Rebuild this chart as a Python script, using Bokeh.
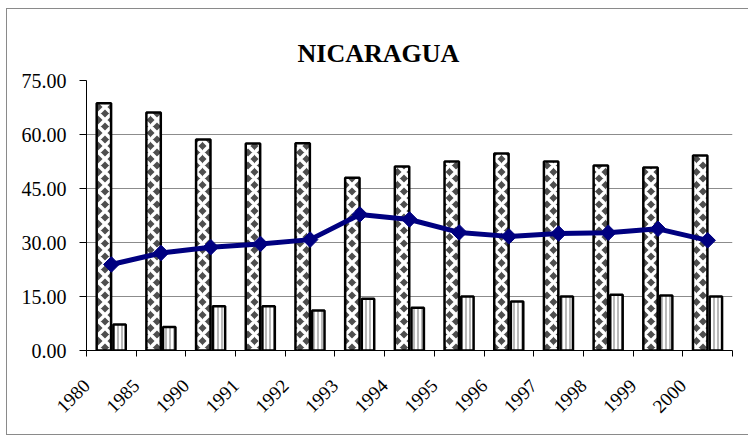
import numpy as np
from bokeh.plotting import figure
from bokeh.models import ColumnDataSource, FixedTicker, Range1d, Title
from bokeh.embed import file_html
from bokeh.resources import INLINE

# ---- data ----
years = ["1980", "1985", "1990", "1991", "1992", "1993", "1994",
         "1995", "1996", "1997", "1998", "1999", "2000"]
series_a = [68.7, 66.1, 58.6, 57.5, 57.6, 48.0, 51.1, 52.5, 54.7, 52.5, 51.4, 50.8, 54.2]
series_b = [7.2, 6.5, 12.3, 12.3, 11.1, 14.4, 11.9, 15.0, 13.6, 15.0, 15.5, 15.3, 15.0]
series_c = [23.9, 27.1, 28.7, 29.6, 30.8, 37.8, 36.4, 32.8, 31.7, 32.5, 32.7, 33.8, 30.6]
y_ticks = [0, 15, 30, 45, 60, 75]
grid_ticks = [15, 30, 45, 60]
title_text = "NICARAGUA"

n = len(years)
centers = np.arange(n) + 0.5
bounds = list(np.arange(n + 1).astype(float))
label_pos = centers - 0.5

src = ColumnDataSource(dict(
    x=centers, a=series_a, b=series_b, c=series_c,
    xa=centers - 0.15, xb=centers + 0.165,
))

FONT = "Liberation Serif"

p = figure(width=741, height=425, output_backend="svg", toolbar_location=None,
           x_range=Range1d(0, n), y_range=Range1d(0, 75),
           min_border_left=79, min_border_right=16, min_border_top=71, min_border_bottom=84,
           background_fill_color="white", border_fill_color="white")
p.styles = {"margin-left": "7px", "margin-top": "9px",
            "outline": "1px solid #8a8a8a"}
p.outline_line_color = None

t = Title(text=title_text, align="left", text_font=FONT, text_font_size="26px",
          text_font_style="bold", text_color="black", offset=211, standoff=26)
p.add_layout(t, "above")

# bars
p.vbar(x="xa", top="a", width=0.29, bottom=0, source=src,
       fill_color="#4e4e4e", hatch_pattern="diagonal_cross", hatch_color="white",
       hatch_scale=13, hatch_weight=3.5,
       line_color="black", line_width=2.5)
p.vbar(x="xb", top="b", width=0.25, bottom=0, source=src,
       fill_color="white", hatch_pattern="vertical_line", hatch_color="#a8a8a8",
       hatch_scale=4, hatch_weight=1.6,
       line_color="black", line_width=2.5)

# line
p.line(x="x", y="c", source=src, line_color="#000080", line_width=5)
p.scatter(x="x", y="c", source=src, marker="square", angle=np.pi / 4, size=11,
          fill_color="#000080", line_color="#000080")

# y axis
yax = p.yaxis[0]
yax.ticker = FixedTicker(ticks=y_ticks)
yax.major_label_overrides = {v: f"{v:.2f}" for v in y_ticks}
yax.major_label_text_font = FONT
yax.major_label_text_font_size = "20px"
yax.major_label_text_color = "black"
yax.major_label_standoff = 13
yax.major_tick_out = 7
yax.major_tick_in = 0
yax.minor_tick_out = 0
yax.minor_tick_in = 0
yax.axis_line_color = "black"
yax.major_tick_line_color = "black"

# x axis: labels under category centres, ticks at boundaries
xax = p.xaxis[0]
xax.ticker = FixedTicker(ticks=list(label_pos), minor_ticks=bounds)
xax.major_label_overrides = {float(c): y for c, y in zip(label_pos, years)}
xax.major_label_orientation = np.pi / 4
xax.major_label_text_font = FONT
xax.major_label_text_font_size = "19px"
xax.major_label_text_color = "black"
xax.major_label_standoff = 26
xax.major_tick_out = 0
xax.major_tick_in = 0
xax.minor_tick_out = 6
xax.minor_tick_in = 0
xax.minor_tick_line_color = "black"
xax.axis_line_color = "black"

p.xgrid.visible = False
p.ygrid[0].ticker = FixedTicker(ticks=grid_ticks)
p.ygrid[0].grid_line_color = "#8c8c8c"
p.ygrid[0].grid_line_width = 1

open("out.html", "w").write(file_html(p, INLINE))
